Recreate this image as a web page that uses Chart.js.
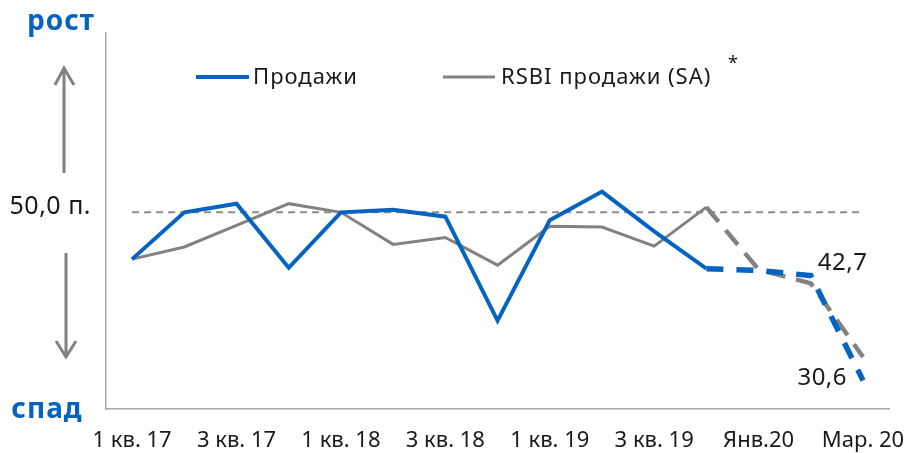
<!DOCTYPE html>
<html>
<head>
<meta charset="utf-8">
<script src="https://cdn.jsdelivr.net/npm/chart.js@4"></script>
<style>
  html, body { margin: 0; padding: 0; background: #fff; }
  #wrap { width: 916px; height: 453px; }
</style>
</head>
<body>
<div id="wrap"><canvas id="chart" width="916" height="453"></canvas></div>
<script>
const categories = ['1 кв. 17', '2 кв. 17', '3 кв. 17', '4 кв. 17', '1 кв. 18', '2 кв. 18', '3 кв. 18', '4 кв. 18',
  '1 кв. 19', '2 кв. 19', '3 кв. 19', '4 кв. 19', 'Янв.20', 'Фев.20', 'Мар. 20'];
const salesValues = [44.6, 50.0, 51.0, 43.6, 50.0, 50.3, 49.5, 37.5, 49.1, 52.4, 47.8, 43.5, 43.3, 42.7, 30.6];
const rsbiValues = [44.6, 46.0, 48.5, 51.0, 50.0, 46.3, 47.1, 43.9, 48.4, 48.3, 46.1, 50.6, 43.4, 41.8, 33.3];
const thresholdValues = [50, 50, 50, 50, 50, 50, 50, 50, 50, 50, 50, 50, 50, 50, 50];
const seriesNames = ['Продажи', 'RSBI продажи (SA)'];
const labeledPoints = [13, 14]; // 42,7 and 30,6
const dashFrom = 11; // 4 кв. 19 onward is dashed

const BLUE = '#0563c1';
const GRAY = '#828282';
const TEXT = '#1a1a1a';
const FONT = '"Noto Sans", sans-serif';

const fmt = v => v.toFixed(1).replace('.', ',');

const decorations = {
  id: 'decorations',
  afterDraw(chart) {
    const ctx = chart.ctx;
    const y = chart.scales.y;
    ctx.save();

    // side labels
    ctx.fillStyle = BLUE;
    ctx.font = 'bold 28px ' + FONT;
    ctx.letterSpacing = '1px';
    ctx.textAlign = 'center';
    ctx.textBaseline = 'middle';
    ctx.fillText('рост', 61, 22);
    ctx.fillText('спад', 47, 410);

    // arrows
    ctx.strokeStyle = GRAY;
    ctx.lineWidth = 3;
    ctx.beginPath();
    ctx.moveTo(64, 173); ctx.lineTo(64, 68);
    ctx.moveTo(55, 85); ctx.lineTo(64, 68); ctx.lineTo(74, 85);
    ctx.moveTo(66, 253); ctx.lineTo(66, 357);
    ctx.moveTo(56, 341); ctx.lineTo(66, 357); ctx.lineTo(76, 341);
    ctx.stroke();

    // threshold label
    ctx.fillStyle = TEXT;
    ctx.font = '25px ' + FONT;
    ctx.letterSpacing = '0.5px';
    ctx.textAlign = 'right';
    ctx.fillText('50,0 п.', 91, y.getPixelForValue(50) - 5);

    // legend
    ctx.lineCap = 'butt';
    ctx.strokeStyle = BLUE; ctx.lineWidth = 4;
    ctx.beginPath(); ctx.moveTo(196, 77); ctx.lineTo(249, 77); ctx.stroke();
    ctx.strokeStyle = GRAY; ctx.lineWidth = 3;
    ctx.beginPath(); ctx.moveTo(443, 77); ctx.lineTo(495, 77); ctx.stroke();
    ctx.font = '22px ' + FONT;
    ctx.letterSpacing = '1px';
    ctx.textAlign = 'left';
    ctx.fillText(seriesNames[0], 253, 78);
    ctx.fillText(seriesNames[1], 501, 78);
    ctx.font = '18px ' + FONT;
    ctx.letterSpacing = '0px';
    ctx.fillText('*', 728, 64);

    // value labels
    const meta = chart.getDatasetMeta(0);
    const p1 = meta.data[labeledPoints[0]];
    const p2 = meta.data[labeledPoints[1]];
    ctx.font = '24px ' + FONT;
    ctx.letterSpacing = '0.5px';
    ctx.textAlign = 'left';
    ctx.fillText(fmt(salesValues[labeledPoints[0]]), p1.x + 7, p1.y - 12);
    ctx.textAlign = 'right';
    ctx.fillText(fmt(salesValues[labeledPoints[1]]), p2.x - 16, p2.y - 2);
    ctx.restore();
  }
};

const dashed = (solid, dash) => ({
  borderDash: c => c.p0DataIndex >= dashFrom ? dash : undefined,
  borderWidth: c => c.p0DataIndex >= dashFrom ? solid + 1.5 : undefined
});

new Chart(document.getElementById('chart'), {
  type: 'line',
  data: {
    labels: categories,
    datasets: [
      {
        label: seriesNames[0],
        data: salesValues,
        borderColor: BLUE,
        borderWidth: 4,
        pointRadius: 0,
        order: 1,
        segment: dashed(4, [17, 13])
      },
      {
        label: seriesNames[1],
        data: rsbiValues,
        borderColor: GRAY,
        borderWidth: 3,
        pointRadius: 0,
        order: 2,
        segment: dashed(3, [19, 11])
      },
      {
        label: 'threshold',
        data: thresholdValues,
        borderColor: '#8c8c8c',
        borderWidth: 2,
        borderDash: [7, 5],
        pointRadius: 0,
        order: 3
      }
    ]
  },
  options: {
    responsive: false,
    animation: false,
    layout: { padding: { left: 106, right: 24, top: 33, bottom: 0 } },
    plugins: { legend: { display: false }, tooltip: { enabled: false } },
    scales: {
      x: {
        offset: true,
        grid: { display: false },
        border: { color: '#a6a6a6', width: 1.5 },
        ticks: {
          autoSkip: false,
          maxRotation: 0,
          padding: 11,
          color: TEXT,
          font: { family: FONT, size: 22 },
          callback: (v, i) => i % 2 === 0 ? categories[i] : ''
        },
        afterFit: s => { s.height = 44; }
      },
      y: {
        min: 27.3,
        max: 70.7,
        grid: { display: false },
        border: { color: '#a6a6a6', width: 1.5 },
        ticks: { display: false },
        afterFit: s => { s.width = 0; }
      }
    }
  },
  plugins: [decorations]
});
</script>
</body>
</html>
